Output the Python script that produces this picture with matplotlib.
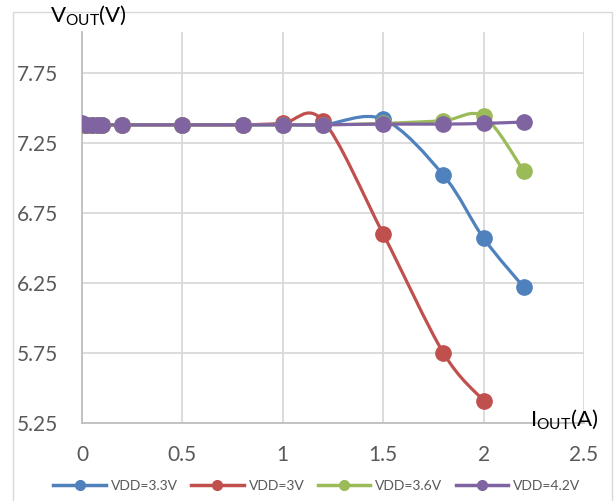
import numpy as np
import matplotlib
matplotlib.use("Agg")
import matplotlib.pyplot as plt
from matplotlib.path import Path
from matplotlib.patches import PathPatch, Rectangle
from matplotlib.lines import Line2D

plt.rcParams["font.family"] = ["Lato", "DejaVu Sans"]

# ---------------- data ----------------
iout_33 = [0, 0.02, 0.05, 0.08, 0.1, 0.2, 0.5, 0.8, 1.0, 1.2, 1.5, 1.8, 2.0, 2.2]
vout_33 = [7.38, 7.38, 7.38, 7.38, 7.38, 7.38, 7.38, 7.38, 7.38, 7.38, 7.42, 7.02, 6.57, 6.22]

iout_30 = [0, 0.02, 0.05, 0.08, 0.1, 0.2, 0.5, 0.8, 1.0, 1.2, 1.5, 1.8, 2.0]
vout_30 = [7.38, 7.38, 7.38, 7.38, 7.38, 7.38, 7.38, 7.38, 7.39, 7.41, 6.60, 5.75, 5.41]

iout_36 = [0, 0.02, 0.05, 0.08, 0.1, 0.2, 0.5, 0.8, 1.0, 1.2, 1.5, 1.8, 2.0, 2.2]
vout_36 = [7.38, 7.38, 7.38, 7.38, 7.38, 7.38, 7.38, 7.38, 7.38, 7.38, 7.39, 7.41, 7.44, 7.05]

iout_42 = [0, 0.02, 0.05, 0.08, 0.1, 0.2, 0.5, 0.8, 1.0, 1.2, 1.5, 1.8, 2.0, 2.2]
vout_42 = [7.39, 7.38, 7.38, 7.38, 7.38, 7.38, 7.38, 7.38, 7.38, 7.38, 7.385, 7.385, 7.39, 7.40]

labels = ["VDD=3.3V", "VDD=3V", "VDD=3.6V", "VDD=4.2V"]
colors = ["#4F81BD", "#C0504D", "#9BBB59", "#8064A2"]
series = [(iout_33, vout_33), (iout_30, vout_30), (iout_36, vout_36), (iout_42, vout_42)]

x_ticks = [0, 0.5, 1, 1.5, 2, 2.5]
x_ticklabels = ["0", "0.5", "1", "1.5", "2", "2.5"]
y_ticks = [5.25, 5.75, 6.25, 6.75, 7.25, 7.75]
y_ticklabels = ["5.25", "5.75", "6.25", "6.75", "7.25", "7.75"]


def smooth_path(xs, ys):
    """Excel-style smoothed line: cubic Bezier through every point."""
    p = np.column_stack([xs, ys]).astype(float)
    n = len(p)
    verts = [p[0]]
    codes = [Path.MOVETO]
    for i in range(n - 1):
        p0 = p[i - 1] if i > 0 else p[i]
        p3 = p[i + 2] if i + 2 < n else p[i + 1]
        c1 = p[i] + (p[i + 1] - p0) / 6.0
        c2 = p[i + 1] - (p3 - p[i]) / 6.0
        verts += [c1, c2, p[i + 1]]
        codes += [Path.CURVE4] * 3
    return Path(verts, codes)


fig = plt.figure(figsize=(6.14, 5.01), dpi=100)
ax = fig.add_axes([82 / 614, 1 - 423 / 501, (584 - 82) / 614, (423 - 32) / 501])

# light outer chart border
fig.patches.append(Rectangle((13 / 614, -0.01), (612 - 13) / 614, 1 - 12 / 501 + 0.01,
                             transform=fig.transFigure, fill=False,
                             edgecolor="#D9D9D9", linewidth=1.0))

for (xs, ys), c, lab in zip(series, colors, labels):
    ax.add_patch(PathPatch(smooth_path(xs, ys), facecolor="none", edgecolor=c,
                           linewidth=2.3, capstyle="round", joinstyle="round", zorder=3))
    ax.plot(xs, ys, linestyle="none", marker="o", markersize=11, color=c, zorder=4)

ax.set_xlim(0, 2.5)
ax.set_ylim(5.25, 8.043)
ax.set_xticks(x_ticks)
ax.set_xticklabels(x_ticklabels)
ax.set_yticks(y_ticks)
ax.set_yticklabels(y_ticklabels)
ax.tick_params(length=0, labelsize=15, labelcolor="#595959")
ax.tick_params(axis="x", pad=16)
ax.tick_params(axis="y", pad=17)
ax.grid(True, color="#D9D9D9", linewidth=1.3)
ax.set_axisbelow(True)
for s in ["top", "right"]:
    ax.spines[s].set_visible(False)
for s in ["left", "bottom"]:
    ax.spines[s].set_color("#BFBFBF")
    ax.spines[s].set_linewidth(1.3)

fig.text(50 / 614, 1 - 15 / 501, r"$\mathregular{V_{OUT}(V)}$", fontsize=16,
         ha="left", va="center", color="#000000")
ax.text(2.57, 5.229, r"$\mathregular{I_{OUT}(A)}$", fontsize=16,
        ha="right", va="baseline", color="#000000", zorder=5)

handles = [Line2D([], [], color=c, linewidth=2.5, marker="o", markersize=7) for c in colors]
fig.legend(handles, labels, loc="center", bbox_to_anchor=(0.516, 1 - 486 / 501), ncol=4,
           frameon=False, fontsize=10, handlelength=3.8, handletextpad=0.35,
           columnspacing=0.95, labelcolor="#595959")

fig.savefig("out.png", dpi=100)
